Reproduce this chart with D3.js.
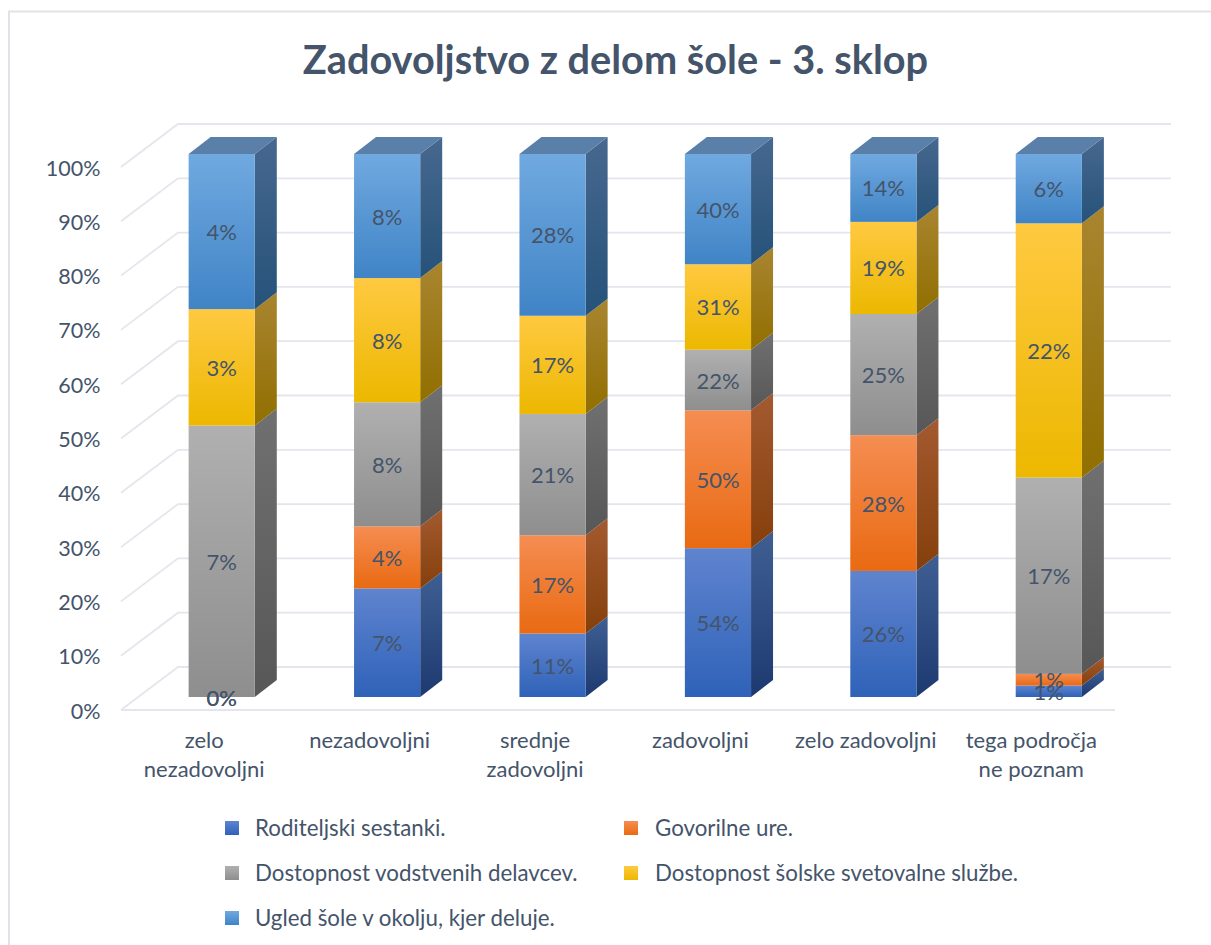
<!DOCTYPE html>
<html><head><meta charset="utf-8">
<style>html,body{margin:0;padding:0;background:#fff}svg{display:block}text{font-family:Lato,"Open Sans",sans-serif;fill:#44546a}</style>
<script src="https://cdn.jsdelivr.net/npm/d3@7"></script></head><body>
<script>
const titleText = "Zadovoljstvo z delom šole - 3. sklop";
const categories = [["zelo","nezadovoljni"],["nezadovoljni"],["srednje","zadovoljni"],["zadovoljni"],["zelo zadovoljni"],["tega področja","ne poznam"]];
const seriesNames = ["Roditeljski sestanki.","Govorilne ure.","Dostopnost vodstvenih delavcev.","Dostopnost šolske svetovalne službe.","Ugled šole v okolju, kjer deluje."];
const roditeljski = [0,7,11,54,26,1];
const govorilne = [0,4,17,50,28,1];
const vodstvo = [7,8,21,22,25,17];
const svetovalna = [3,8,17,31,19,22];
const ugled = [4,8,28,40,14,6];
const tickValues = [0,.1,.2,.3,.4,.5,.6,.7,.8,.9,1];
const frontColors = [["#5f84cf","#2f62b8"],["#f58d52","#e96a12"],["#b0b0b0","#8e8e8e"],["#ffc941","#ecb800"],["#70a9e0","#4084c6"]];
const sideColors = [["#3f5f93","#1d3a70"],["#a35a30","#853f0b"],["#707070","#575757"],["#a98530","#916f00"],["#47688f","#265279"]];
const topColors = ["#3f5f93","#a35a30","#707070","#a98530","#5a7fa9"];

const W=1211,H=945;
const svg=d3.select("body").append("svg").attr("width",W).attr("height",H);
const defs=svg.append("defs");
function grad(id,c){const g=defs.append("linearGradient").attr("id",id).attr("x1",0).attr("y1",0).attr("x2",0).attr("y2",1);
  g.append("stop").attr("offset",0).attr("stop-color",c[0]);g.append("stop").attr("offset",1).attr("stop-color",c[1]);}
frontColors.forEach((c,i)=>grad("f"+i,c));
sideColors.forEach((c,i)=>grad("s"+i,c));

// chart frame
svg.append("path").attr("d",`M9,${H}V11.5H${W}`).attr("fill","none").attr("stroke","#dfe3e8").attr("stroke-width",2);

// title
svg.append("text").attr("x",615.5).attr("y",74).attr("text-anchor","middle").attr("font-size",39.7).attr("font-weight",700).text(titleText);

// 3D projection parameters
const floorX0=121, floorX1=1115, wallDX=57, wallDY=43;  // floor depth
const barOffX=17.5, barOffY=13, barDX=22, barDY=17;     // bar placement in depth
const y=d3.scaleLinear().domain([0,1]).range([710,167]);
const x=d3.scaleBand().domain(d3.range(categories.length)).range([floorX0+.5,floorX0+993]).paddingInner(.6).paddingOuter(.3);

// walls & gridlines
const gridColor="#e3e6ec";
const grid=svg.append("g").attr("fill","none").attr("stroke",gridColor).attr("stroke-width",1.8);
tickValues.forEach(t=>{
  const yy=y(t);
  grid.append("path").attr("d",`M${floorX0},${yy}L${floorX0+wallDX},${yy-wallDY}H${floorX1+wallDX-1}`);
});
grid.append("path").attr("d",`M${floorX0},${y(0)}H${floorX1}`);

// y tick labels
svg.append("g").selectAll("text").data(tickValues).join("text")
  .attr("x",100.5).attr("y",d=>y(d)+8.5).attr("text-anchor","end").attr("font-size",21.5).text(d3.format(".0%"));

// stack
const rows=categories.map((c,i)=>({i,a:roditeljski[i],b:govorilne[i],c:vodstvo[i],d:svetovalna[i],e:ugled[i]}));
const stacked=d3.stack().keys(["a","b","c","d","e"]).offset(d3.stackOffsetExpand)(rows);
const by=v=>y(v)-barOffY, bw=x.bandwidth();
const bx=i=>x(i)+barOffX;

// bars, drawn bottom-up
stacked.forEach((s,k)=>{
  const g=svg.append("g");
  s.forEach((d,i)=>{
    if(d[1]-d[0]<=0) return;
    const y0=by(d[0]),y1=by(d[1]),l=bx(i),r=l+bw;
    g.append("path").attr("d",`M${r},${y1}L${r+barDX},${y1-barDY}V${y0-barDY}L${r},${y0}Z`).attr("fill",`url(#s${k})`);
    g.append("rect").attr("x",l).attr("y",y1).attr("width",bw).attr("height",y0-y1).attr("fill",`url(#f${k})`);
    if(d[1]>=.9999) g.append("path").attr("d",`M${l},${y1}L${l+barDX},${y1-barDY}H${r+barDX}L${r},${y1}Z`).attr("fill",topColors[k]);
  });
});

// data labels
stacked.forEach(s=>{
  svg.append("g").selectAll("text").data(s).join("text")
    .attr("x",(d,i)=>bx(i)+bw/2).attr("y",d=>by((d[0]+d[1])/2)+8.5)
    .attr("text-anchor","middle").attr("font-size",22)
    .text((d,i)=>rows[i][s.key]+"%");
});

// category labels
categories.forEach((lines,i)=>{
  const t=svg.append("text").attr("text-anchor","middle").attr("font-size",22);
  lines.forEach((l,j)=>t.append("tspan").attr("x",x(i)+bw/2).attr("y",748+j*29).text(l));
});

// legend
const legendX=[225,624], legendTextX=[255,655], legendY=[828,873,918];
seriesNames.forEach((n,k)=>{
  const cx=k%2, ry=legendY[Math.floor(k/2)];
  svg.append("rect").attr("x",legendX[cx]).attr("y",ry-7).attr("width",14).attr("height",14).attr("fill",`url(#f${k})`);
  svg.append("text").attr("x",legendTextX[cx]).attr("y",ry+7.5).attr("font-size",22.3).text(n);
});
</script></body></html>
